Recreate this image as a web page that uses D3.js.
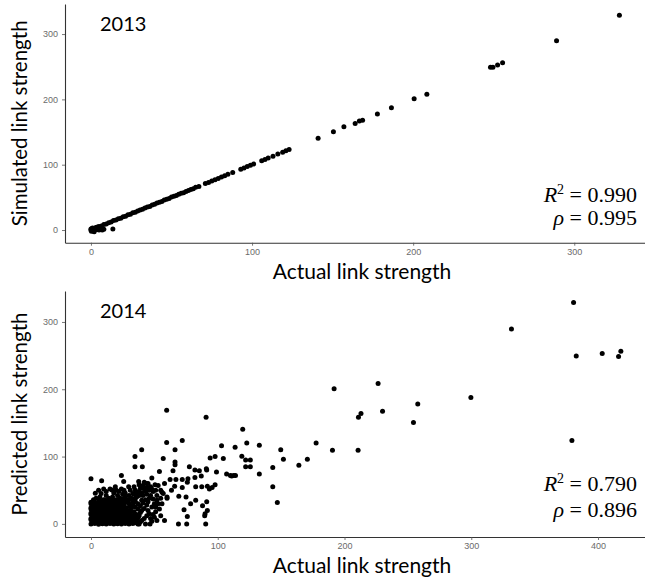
<!DOCTYPE html>
<html>
<head>
<meta charset="utf-8">
<script src="https://cdn.jsdelivr.net/npm/d3@7"></script>
<style>
  body { margin: 0; background: #fff; }
  svg { display: block; }
</style>
</head>
<body>
<script>
// tick labels
const xTicks2013 = [0, 100, 200, 300];
const xTicks2014 = [0, 100, 200, 300, 400];
const yTicks = [0, 100, 200, 300];

// 2013: [actual, simulated]
const links2013 = [
  [0, 0], [0.5, 2], [1, -1], [1.5, 1], [2, 0], [2.5, 2.5], [3, 0.5], [1, 3], [0, 1.5], [4, 1],
  [5, 0], [6, 1], [7, 0], [8, 1], [13.6, 1.5], [3, 4], [4, 4.5], [0.3, -2], [2, -2.5], [5.5, 2],
  [5, 5.4], [6.5, 6.2], [8, 8.5], [9.5, 9.2], [11, 11.3], [12.5, 12.1], [14, 14.6], [15.5, 15.2],
  [17, 17.4], [18.5, 18.1], [20, 20.5], [21.5, 21.2], [23, 23.3], [24.5, 24.1], [26, 26.6],
  [27.5, 27.3], [29, 29.2], [30.5, 30.8], [32, 31.7], [33.5, 33.9], [35, 35.2], [36.5, 36.1],
  [38, 38.5], [39.5, 39.4], [41, 41.2], [42.5, 42.7], [44, 43.8], [45.5, 45.9], [47, 47.1],
  [48.5, 48.3], [50, 50.4], [51.5, 51.6], [53, 52.8], [54.5, 54.7], [56, 56.3], [57.5, 57.2],
  [59, 59.1], [60.5, 60.6], [62, 62.2], [63.5, 63.3], [65, 65.4], [67, 66.8],
  [71, 71.3], [73, 72.8], [75, 75.2], [77, 77.1], [79, 78.9], [81, 81.2], [83, 83], [85, 85.3], [88, 88.1],
  [93, 93.2], [95, 94.8], [97, 97.1], [99, 99.2], [101, 101],
  [106, 106.2], [108, 108.1], [110, 110.3], [113, 112.8], [116, 116.2], [119, 119.1], [121, 121.3], [123, 123.2],
  [141, 140.5], [150.5, 150.5], [157, 158], [164, 163], [166.6, 167], [168.6, 168], [177.8, 177.6],
  [186.5, 187], [200.6, 201], [208.5, 208], [248, 249], [249.5, 249], [252.4, 252.6], [255.5, 256],
  [289, 289.8], [328, 328.6]
];

// 2014: [actual, predicted]
const links2014 = [
  // dense core
  [0, 0], [3, 0.5], [6, -0.5], [9, 0.3], [12, 0], [15, 0.6], [18, -0.3], [21, 0.2], [24, 0], [27, 0.4], [30, 0], [33, 0.5], [37, 0],
  [1.5, 2], [4.5, 2.2], [7.5, 1.8], [10.5, 2.1], [13.5, 2], [16.5, 1.7], [19.5, 2.3], [22.5, 2], [25.5, 1.9], [28.5, 2.2], [31.5, 2], [34.5, 1.8],
  [1.5, 4], [4.5, 4.3], [7.5, 3.8], [10.5, 4.2], [13.5, 4], [16.5, 3.7], [19.5, 4.4], [22.5, 4], [25.5, 3.9], [28.5, 4.2], [31.5, 4], [35, 3.5],
  [0, 6], [3, 6.2], [6, 5.8], [9, 6.1], [12, 6], [15, 6.3], [18, 5.9], [21, 6], [24, 6.2], [27, 5.8], [30, 6], [33, 6.1],
  [0, 8], [3, 8.2], [6, 7.8], [9, 8.3], [12, 8], [15, 7.7], [18, 8.4], [21, 8], [24, 8.1], [27, 7.8], [30, 8.2], [34, 8],
  [1.5, 10], [4.5, 10.2], [7.5, 9.8], [10.5, 10.1], [13.5, 10], [16.5, 10.3], [19.5, 9.9], [22.5, 10], [25.5, 10.2], [28.5, 9.8], [31.5, 10.1],
  [1.5, 12], [4.5, 12.3], [7.5, 11.8], [10.5, 12.2], [13.5, 12], [16.5, 11.7], [19.5, 12.4], [22.5, 12], [25.5, 12.1], [28.5, 11.8], [32, 12.3],
  [0, 14], [3, 14.2], [6, 13.8], [9, 14.1], [12, 14], [15, 14.3], [18, 13.9], [21, 14], [24, 14.2], [27, 13.8], [30, 14.1],
  [0, 16], [3, 16.2], [6, 15.8], [9, 16.3], [12, 16], [15, 15.7], [18, 16.4], [21, 16], [24, 16.1], [27, 15.8], [31, 16.2],
  [1.5, 18], [4.5, 18.2], [7.5, 17.8], [10.5, 18.1], [13.5, 18], [16.5, 18.3], [19.5, 17.9], [22.5, 18], [25.5, 18.2], [28.5, 17.8],
  [1.5, 20], [4.5, 20.3], [7.5, 19.8], [10.5, 20.2], [13.5, 20], [16.5, 19.7], [19.5, 20.4], [22.5, 20], [25.5, 20.1], [29, 19.8],
  [0, 22], [3, 22.2], [6, 21.8], [9, 22.1], [12, 22], [15, 22.3], [18, 21.9], [21, 22], [24, 22.2], [27, 21.8],
  [0, 24], [3, 24.2], [6, 23.8], [9, 24.3], [12, 24], [15, 23.7], [18, 24.4], [21, 24], [24, 24.1], [28, 23.8],
  [1.5, 26], [4.5, 26.2], [7.5, 25.8], [10.5, 26.1], [13.5, 26], [16.5, 26.3], [19.5, 25.9], [22.5, 26], [25.5, 26.2],
  [1.5, 28], [4.5, 28.3], [7.5, 27.8], [10.5, 28.2], [13.5, 28], [16.5, 27.7], [19.5, 28.4], [22.5, 28], [26, 28.1],
  [0, 30], [3, 30.2], [6, 29.8], [9, 30.1], [12, 30], [15, 30.3], [18, 29.9], [21, 30], [24, 30.2],
  [0, 32], [3, 32.3], [6, 31.7], [9.5, 32.2], [13, 32], [17, 31.6], [21, 32.4], [24, 32],
  [2, 36], [6, 36.5], [11, 35.6], [16, 36.2], [20, 36], [8, 34], [14, 34.5], [18, 33.8], [26, 34],
  // fringe of the cluster
  [33, 45], [36, 40], [38, 48], [40, 35], [42, 52], [44, 44], [46, 38], [47, 55], [49, 48], [50, 30],
  [52, 42], [53, 57], [55, 50], [57, 45], [58, 60], [60, 38], [48, 25], [44, 28], [40, 20], [38, 12],
  [42, 8], [46, 15], [50, 10], [54, 22], [56, 30], [52, 35], [35, 25], [37, 30], [41, 42], [45, 60],
  [32, 38], [34, 18], [36, 6], [39, 3], [43, 0], [48, 4], [45, 20], [51, 18], [55, 12], [58, 5],
  [30, 42], [29, 36], [27, 40], [25, 44], [23, 38], [21, 42], [19, 35], [17, 40], [14, 38], [12, 42],
  [10, 36], [7, 40], [4, 38], [2, 34], [31, 50], [34, 55], [38, 58], [42, 62], [26, 50], [22, 48],
  [18, 46], [12, 48], [15, 52], [8, 45], [3.4, 45.6], [16.6, 50.5], [19.2, 55], [25.8, 63], [29.7, 55],
  [37.6, 63], [44, 60], [48, 68], [50.5, 58],
  [31, 20], [33, 28], [35, 33], [37, 22], [39, 27], [41, 31], [43, 36], [45, 33], [47, 42], [49, 37],
  [51, 25], [53, 30], [55, 38], [36, 14], [39, 17], [42, 23], [44, 12], [47, 8], [49, 14], [52, 5],
  [31, 26], [33, 34], [35, 38], [38, 42], [40, 46], [43, 48], [46, 50], [48, 52], [51, 50], [30, 30],
  [32, 24], [34, 12], [37, 9], [40, 5], [35, 50], [39, 53], [41, 57], [44, 54], [27, 46], [24, 52],
  [20, 50], [10, 52], [6, 50], [28, 32], [26, 38], [22, 34], [30, 36], [34, 44], [36, 46],
  // scattered
  [59.7, 169], [90.8, 158.5], [59.7, 121], [72, 124], [40, 110], [34.7, 100], [66.3, 110], [103, 116],
  [113.7, 114], [97.9, 100], [94, 98], [104.4, 97], [57, 97], [66.3, 92], [66.3, 88], [34.7, 85],
  [40.5, 85], [54, 78], [64.7, 79], [77.6, 85], [82, 80], [85.5, 79], [91.3, 80], [99, 77], [107, 74],
  [111, 71], [114, 72], [0, 67], [8.4, 64], [24, 72], [62.4, 66], [67, 66], [72, 66], [76.5, 67],
  [82, 69], [87, 71], [76, 62], [82.6, 55], [91.8, 56], [72, 54], [66, 56], [63.5, 50], [69.3, 41],
  [75, 40], [56, 47], [60, 40], [82.6, 35], [78.6, 30], [73.4, 21], [76, 11], [75.5, 0], [69, 0],
  [90.5, 0], [89.7, 12], [88, 27], [91.8, 20], [95.6, 54], [46.6, 0], [38, 0], [97.9, 58], [93.4, 52],
  [91.3, 32.7], [87.4, 55], [90, 15], [91, 82], [119.7, 140.7], [122.9, 120], [132.8, 117],
  [119, 100.5], [122, 95], [122, 85], [132.8, 74], [125.7, 95], [125.7, 85], [110, 72], [112.6, 72],
  [147, 31.7], [143.4, 55], [143.4, 83.7], [149.7, 110], [151.8, 96], [164, 87], [170.7, 96],
  [177.6, 120], [190.5, 109.5], [191.8, 200.6], [210.7, 109.5], [211, 158.5], [213, 164],
  [226.5, 208.5], [230, 167.4], [254.4, 150.5], [257.8, 178], [299.7, 187.7], [331.7, 289.7],
  [379.4, 123.8], [380.7, 328.8], [382.8, 249.6], [403.3, 253], [416.2, 248.6], [418, 256.6]
];

const W = 645, H = 586;

const panels = [
  {
    label: "2013", data: links2013, xTicks: xTicks2013,
    xDomain: [-16.1, 347], yDomain: [-19.4, 346],
    top: 4, bottom: 242.7, yTitle: "Simulated link strength",
    r2: "0.990", rho: "0.995", r2y: 202, rhoy: 225
  },
  {
    label: "2014", data: links2014, xTicks: xTicks2014,
    xDomain: [-20.5, 441], yDomain: [-19.5, 346],
    top: 291, bottom: 537, yTitle: "Predicted link strength",
    r2: "0.790", rho: "0.896", r2y: 491, rhoy: 517
  }
];

const left = 65, right = 650;
const titleFont = "Lato, 'Open Sans', sans-serif";
const tickFont = "'Liberation Sans', Arial, sans-serif";
const mathFont = "'Liberation Serif', 'DejaVu Serif', serif";

const svg = d3.select("body").append("svg")
  .attr("width", W).attr("height", H);

panels.forEach(function (p) {
  const x = d3.scaleLinear().domain(p.xDomain).range([left, right]);
  const y = d3.scaleLinear().domain(p.yDomain).range([p.bottom, p.top]);
  const g = svg.append("g");

  // x axis
  const gx = g.append("g")
    .attr("transform", "translate(0," + p.bottom + ")")
    .call(d3.axisBottom(x).tickValues(p.xTicks).tickSize(3).tickSizeOuter(0).tickPadding(3));
  // y axis
  const gy = g.append("g")
    .attr("transform", "translate(" + left + ",0)")
    .call(d3.axisLeft(y).tickValues(yTicks).tickSize(3).tickSizeOuter(0).tickPadding(4));

  [gx, gy].forEach(function (ax) {
    ax.select(".domain").attr("stroke", "#333").attr("stroke-width", 1.1);
    ax.selectAll(".tick line").attr("stroke", "#555").attr("stroke-width", 0.8);
    ax.selectAll(".tick text")
      .attr("fill", "#6b6b6b")
      .style("font-family", tickFont)
      .style("font-size", "9px");
  });

  // points
  g.append("g").selectAll("circle")
    .data(p.data)
    .join("circle")
    .attr("cx", d => x(d[0]))
    .attr("cy", d => y(d[1]))
    .attr("r", 2.5)
    .attr("fill", "#000");

  // panel label
  g.append("text")
    .attr("x", 100).attr("y", p.top + 27)
    .style("font-family", titleFont).style("font-size", "20px")
    .attr("fill", "#000")
    .text(p.label);

  // x title
  g.append("text")
    .attr("x", 362).attr("y", p.bottom + 36)
    .attr("text-anchor", "middle")
    .style("font-family", titleFont).style("font-size", "21px")
    .attr("fill", "#000")
    .text("Actual link strength");

  // y title
  g.append("text")
    .attr("transform", "translate(27," + ((p.top + p.bottom) / 2) + ") rotate(-90)")
    .attr("text-anchor", "middle")
    .style("font-family", titleFont).style("font-size", "20.5px")
    .attr("fill", "#000")
    .text(p.yTitle);

  // stats
  const t1 = g.append("text")
    .attr("x", 637).attr("y", p.r2y)
    .attr("text-anchor", "end")
    .style("font-family", mathFont).style("font-size", "22px")
    .attr("fill", "#000");
  t1.append("tspan").style("font-style", "italic").text("R");
  t1.append("tspan").attr("dy", -8).style("font-size", "14px").text("2");
  t1.append("tspan").attr("dy", 8).text(" = " + p.r2);

  const t2 = g.append("text")
    .attr("x", 637).attr("y", p.rhoy)
    .attr("text-anchor", "end")
    .style("font-family", mathFont).style("font-size", "22px")
    .attr("fill", "#000");
  t2.append("tspan").style("font-style", "italic").text("ρ");
  t2.append("tspan").text(" = " + p.rho);
});
</script>
</body>
</html>
